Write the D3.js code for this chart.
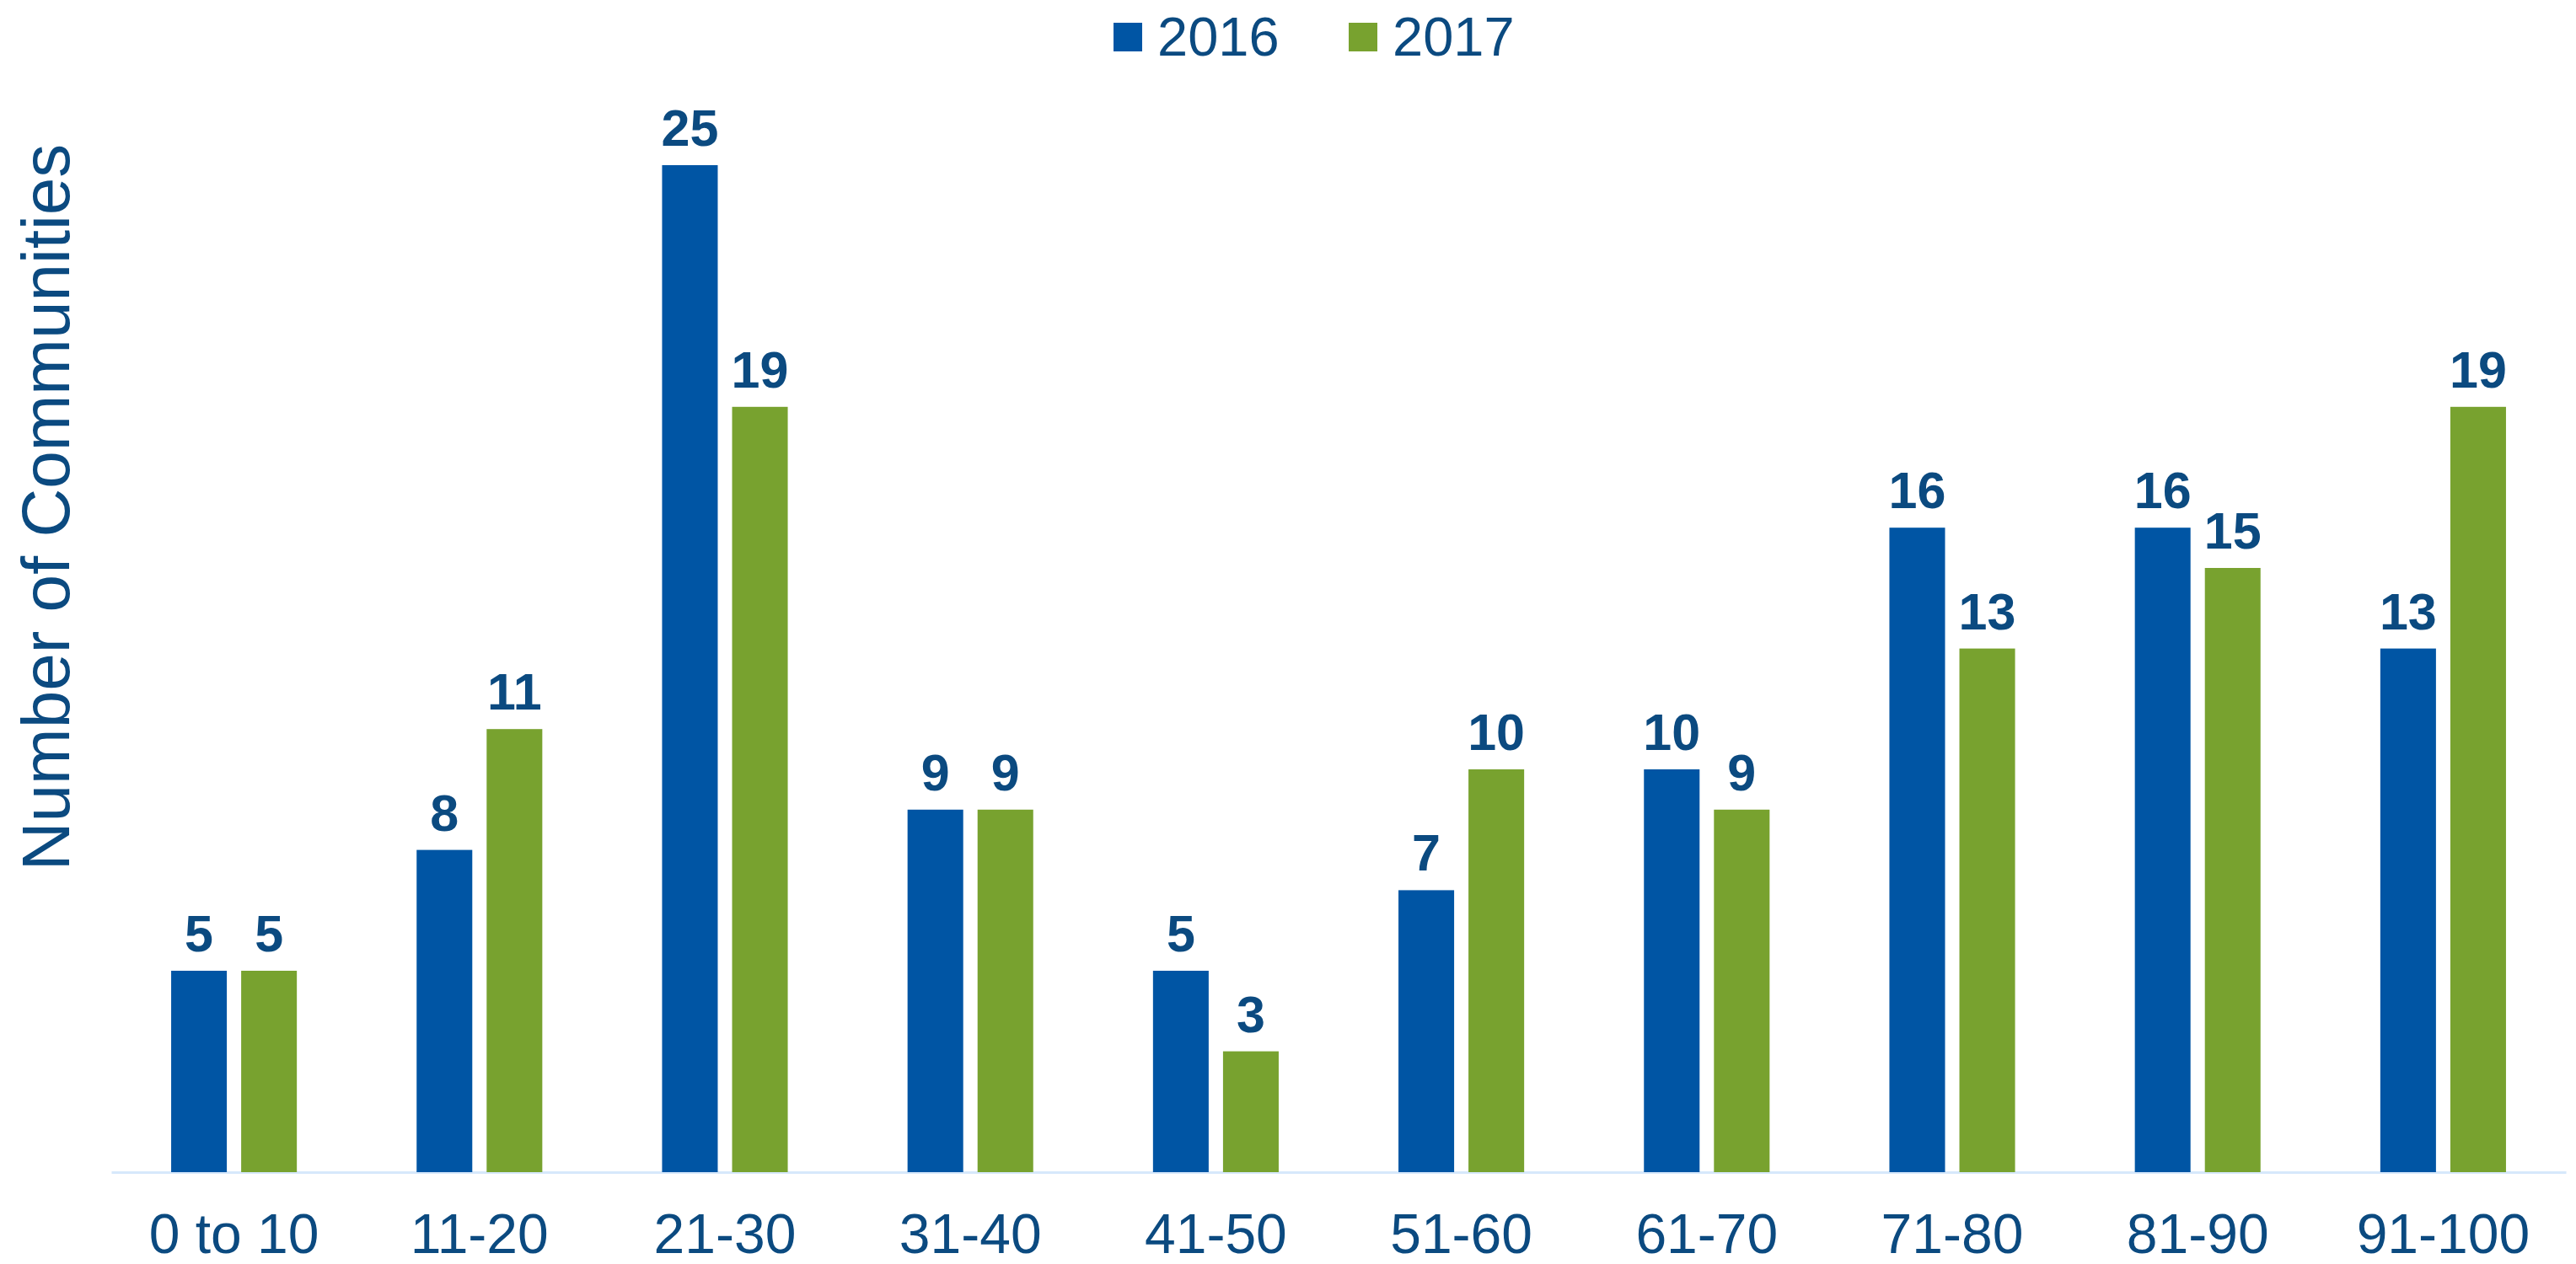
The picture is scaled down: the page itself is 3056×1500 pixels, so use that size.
<!DOCTYPE html>
<html>
<head>
<meta charset="utf-8">
<script src="https://cdn.jsdelivr.net/npm/d3@7"></script>
<style>
  body { margin: 0; background: #fff; }
  svg text { font-family: "Liberation Sans", Arial, sans-serif; }
</style>
</head>
<body>
<svg id="chart"></svg>
<script>
// data
const CATEGORIES = ["0 to 10", "11-20", "21-30", "31-40", "41-50", "51-60", "61-70", "71-80", "81-90", "91-100"];
const SERIES = ["2016", "2017"];
const VALUES_2016 = [5, 8, 25, 9, 5, 7, 10, 16, 16, 13];
const VALUES_2017 = [5, 11, 19, 9, 3, 10, 9, 13, 15, 19];
const COLORS = ["#0055a4", "#78a22f"];

const WIDTH = 3056;
const HEIGHT = 1500;
const TEXT_COLOR = "#0b4a80";
const BASE = 1391; // y of the axis line

const svg = d3.select("#chart")
  .attr("width", WIDTH)
  .attr("height", HEIGHT);

const rows = CATEGORIES.map((c, i) => ({
  name: c,
  values: [VALUES_2016[i], VALUES_2017[i]]
}));

//scales
const x0 = d3.scaleBand().domain(CATEGORIES).range([132, 3044]);
const x1 = d3.scaleBand().domain(SERIES)
  .range([x0.bandwidth() * 0.244, x0.bandwidth() * 0.756])
  .paddingInner(0.205);
const yScale = d3.scaleLinear().domain([0, 25]).range([BASE, 196]);

//x axis
const xAxis = svg.append("g")
  .attr("transform", `translate(0, ${BASE})`)
  .call(d3.axisBottom(x0).tickSize(0).tickSizeOuter(0).tickPadding(49));

xAxis.select(".domain")
  .attr("stroke", "#d6e8fb")
  .attr("stroke-width", 3);

xAxis.selectAll("text")
  .attr("fill", TEXT_COLOR)
  .style("font-size", "66px")
  .style("font-family", "'Liberation Sans', Arial, sans-serif");

//bars
const groups = svg.selectAll(".group")
  .data(rows)
  .enter()
  .append("g")
  .attr("class", "group")
  .attr("transform", d => `translate(${x0(d.name)}, 0)`);

groups.selectAll("rect")
  .data(d => d.values.map((v, i) => ({ key: SERIES[i], value: v, idx: i })))
  .enter()
  .append("rect")
  .attr("x", d => x1(d.key))
  .attr("width", x1.bandwidth())
  .attr("y", d => yScale(d.value))
  .attr("height", d => BASE - yScale(d.value))
  .attr("fill", d => COLORS[d.idx]);

//value labels
groups.selectAll(".label")
  .data(d => d.values.map((v, i) => ({ key: SERIES[i], value: v })))
  .enter()
  .append("text")
  .attr("class", "label")
  .text(d => d.value)
  .attr("x", d => x1(d.key) + x1.bandwidth() / 2)
  .attr("y", d => yScale(d.value) - 23)
  .attr("text-anchor", "middle")
  .attr("fill", TEXT_COLOR)
  .style("font-size", "61px")
  .style("font-weight", "bold");

//legend
const legend = svg.append("g")
  .selectAll("g")
  .data(SERIES)
  .enter()
  .append("g")
  .attr("transform", (d, i) => `translate(${1321 + i * 279}, 0)`);

legend.append("rect")
  .attr("x", 0)
  .attr("y", 27)
  .attr("width", 34)
  .attr("height", 34)
  .attr("fill", (d, i) => COLORS[i]);

legend.append("text")
  .attr("x", 52)
  .attr("y", 66)
  .attr("fill", TEXT_COLOR)
  .style("font-size", "65px")
  .text(d => d);

//y title
svg.append("text")
  .attr("transform", "translate(82, 602) rotate(-90)")
  .attr("text-anchor", "middle")
  .attr("fill", TEXT_COLOR)
  .style("font-size", "80px")
  .text("Number of Communities");
</script>
</body>
</html>
